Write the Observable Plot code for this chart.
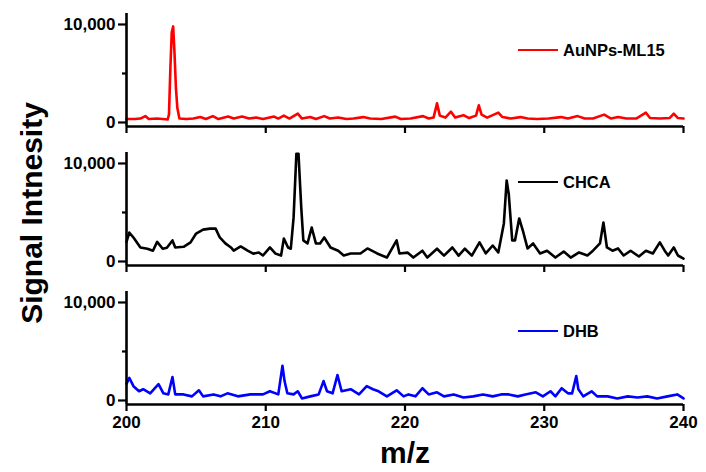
<!DOCTYPE html>
<html><head><meta charset="utf-8">
<script src="https://cdn.jsdelivr.net/npm/d3@7"></script>
<script src="https://cdn.jsdelivr.net/npm/@observablehq/plot@0.6"></script>
<style>
body{margin:0;background:#fff;}
#chart{position:relative;width:706px;height:472px;overflow:hidden;font-family:"Liberation Sans",Arial,sans-serif;font-weight:bold;color:#000;}
.panel{position:absolute;left:0;}
.legend{position:absolute;display:flex;align-items:center;height:20px;font-size:16.5px;font-weight:bold;white-space:nowrap;}
.legend .sw{width:40px;height:0;border-top:2.5px solid;margin-right:5px;}
.ylab{position:absolute;width:300px;height:36px;line-height:36px;text-align:center;font-size:30px;font-weight:bold;transform:rotate(-90deg);}
.xlab{position:absolute;width:200px;height:36px;line-height:36px;text-align:center;font-size:30px;font-weight:bold;}
</style>
</head><body><div id="chart"></div>
<script>
// ---- data ----
const seriesNames = ["AuNPs-ML15", "CHCA", "DHB"];
const seriesColors = ["#ff0000", "#000000", "#0000ff"];
const xTicks = [200, 210, 220, 230, 240];
const yTicks = [0, 10000];
const yMinorTicks = [5000];
const xDomain = [200, 240];
const yDomain = [-410, 11120];
const xTitle = "m/z";
const yTitle = "Signal Intnesity";

// [m/z, intensity]
const aunpsSpectrum = [
[200.0,350],[200.6,350],[201.0,400],[201.35,650],[201.6,350],[202.2,400],[202.6,350],[202.95,300],
[203.05,800],[203.15,5500],[203.25,9200],[203.35,9800],[203.45,7000],[203.55,3500],[203.65,1500],[203.8,400],
[204.3,350],[204.8,400],[205.3,550],[205.7,350],[206.2,650],[206.6,350],[207.3,600],[207.7,400],
[208.3,600],[208.8,400],[209.3,500],[209.8,350],[210.6,600],[210.9,400],[211.3,700],[211.7,400],
[212.3,900],[212.6,400],[213.2,550],[213.6,350],[214.2,650],[214.6,400],[215.2,500],[215.8,350],
[216.3,400],[217.0,550],[217.5,400],[218.3,350],[219.3,600],[219.7,350],[220.4,400],[221.3,650],
[221.7,400],[222.05,500],[222.3,1950],[222.5,700],[222.9,500],[223.3,1100],[223.6,500],[224.2,750],
[224.6,450],[225.1,700],[225.3,1750],[225.5,800],[225.9,500],[226.7,1000],[227.0,550],[227.6,400],
[228.3,550],[228.8,400],[229.5,350],[230.3,400],[231.2,550],[231.7,400],[232.4,650],[232.9,400],
[233.5,400],[234.3,800],[234.8,400],[235.3,550],[235.9,400],[236.6,400],[237.3,1000],[237.6,450],
[238.3,400],[239.0,450],[239.3,900],[239.6,450],[240.0,400]
];
const chcaSpectrum = [
[200.0,2000],[200.2,2950],[200.5,2450],[201.0,1430],[201.5,1300],[201.9,1100],[202.2,2000],[202.6,1300],
[202.9,1400],[203.3,2150],[203.5,1430],[204.1,1500],[204.6,1950],[205.0,2850],[205.5,3250],[206.0,3350],
[206.4,3350],[206.7,2450],[207.1,1850],[207.5,1430],[207.7,1100],[208.2,1530],[208.7,1100],[209.1,800],
[209.5,920],[209.8,610],[210.3,1430],[210.7,800],[211.1,600],[211.3,2350],[211.6,1430],[211.8,1300],
[212.0,4500],[212.2,11000],[212.35,11000],[212.55,5500],[212.7,2150],[213.0,1840],[213.3,3470],[213.6,1840],
[213.9,1840],[214.2,2450],[214.65,1430],[215.2,1100],[215.6,610],[216.1,820],[216.8,820],[217.3,1330],
[218.0,820],[218.7,400],[219.4,2150],[219.6,820],[220.2,900],[220.6,400],[221.25,1100],[221.6,400],
[222.3,1300],[222.8,600],[223.4,1430],[223.85,600],[224.3,1300],[224.8,600],[225.35,1950],[225.8,820],
[226.3,1630],[226.7,920],[227.1,3880],[227.3,8260],[227.45,6900],[227.7,2150],[227.9,2150],[228.2,4390],
[228.5,2960],[228.8,1330],[229.2,1840],[229.7,820],[230.2,1100],[230.8,400],[231.4,1020],[231.9,400],
[232.5,920],[233.1,610],[233.5,1100],[234.0,1840],[234.25,3980],[234.5,1430],[234.9,1100],[235.3,1330],
[235.7,610],[236.2,1100],[236.8,510],[237.3,1100],[237.8,820],[238.3,1950],[238.65,1100],[238.9,610],
[239.3,1430],[239.6,610],[240.0,300]
];
const dhbSpectrum = [
[200.0,1700],[200.2,2300],[200.5,1460],[200.9,940],[201.2,1150],[201.7,730],[202.3,1670],[202.65,730],
[203.0,620],[203.3,2400],[203.5,620],[204.1,620],[204.7,420],[205.2,1040],[205.5,420],[206.25,620],
[206.75,420],[207.25,730],[208.0,420],[208.9,620],[209.8,620],[210.3,940],[210.9,620],[211.2,3540],
[211.35,1980],[211.55,730],[212.0,620],[212.3,940],[212.6,210],[213.2,420],[213.8,620],[214.15,1980],
[214.4,940],[214.8,730],[215.15,2600],[215.45,940],[216.1,1150],[216.7,620],[217.25,1460],[217.7,1150],
[218.1,940],[218.7,420],[219.4,1040],[219.9,420],[220.25,620],[220.75,420],[221.25,1250],[221.7,620],
[222.3,830],[222.8,420],[223.5,620],[224.2,310],[224.9,420],[225.6,620],[226.3,420],[226.9,620],
[227.45,620],[228.1,420],[228.65,620],[229.4,830],[229.9,420],[230.45,940],[230.8,420],[231.25,1250],
[231.7,730],[232.0,730],[232.3,2500],[232.45,1150],[232.8,420],[233.4,940],[233.8,420],[234.55,420],
[235.25,210],[236.0,420],[236.7,310],[237.4,420],[238.1,210],[238.85,420],[239.55,620],[240.0,210]
];
const spectra = [aunpsSpectrum, chcaSpectrum, dhbSpectrum];

// ---- layout ----
const W = 706, frameH = 113, mL = 126, mR = 23;
const frameTops = [13, 152, 291];
const legendY = [50, 182, 331];

const chart = document.getElementById("chart");
const fmt = d3.format(",");
const textStyle = {fontSize: 17, fontWeight: "bold", fontFamily: "Liberation Sans, Arial, sans-serif"};

spectra.forEach((data, i) => {
  const isBottom = i === spectra.length - 1;
  const mt = 10, mb = isBottom ? 40 : 12;
  const p = Plot.plot({
    width: W, height: frameH + mt + mb,
    marginLeft: mL, marginRight: mR, marginTop: mt, marginBottom: mb,
    style: {overflow: "visible", background: "transparent", color: "#000"},
    x: {domain: xDomain, label: null},
    y: {domain: yDomain, label: null},
    marks: [
      Plot.line(data, {x: d => d[0], y: d => d[1], stroke: seriesColors[i], strokeWidth: 2.6, strokeLinejoin: "round"}),
      Plot.ruleX([xDomain[0]], {stroke: "#000", strokeWidth: 2.6}),
      Plot.ruleY([yDomain[0]], {stroke: "#000", strokeWidth: 2.6}),
      Plot.axisY({ticks: yTicks, tickFormat: fmt, tickSize: 8, tickPadding: 3, strokeWidth: 2.2, label: null, ...textStyle}),
      Plot.axisY({ticks: yMinorTicks, tickFormat: () => "", tickSize: 4, strokeWidth: 2.2, label: null}),
      Plot.axisX({ticks: xTicks, tickFormat: isBottom ? (d => String(d)) : (() => ""), tickSize: 7, tickPadding: 4, strokeWidth: 2.2, label: null, ...textStyle})
    ]
  });
  p.classList.add("panel");
  p.style.top = (frameTops[i] - mt) + "px";
  chart.appendChild(p);

  const lg = document.createElement("div");
  lg.className = "legend";
  lg.style.left = "518px";
  lg.style.top = (legendY[i] - 10) + "px";
  lg.innerHTML = `<span class="sw" style="border-color:${seriesColors[i]}"></span><span>${seriesNames[i]}</span>`;
  chart.appendChild(lg);
});

const yl = document.createElement("div");
yl.className = "ylab";
yl.textContent = yTitle;
yl.style.left = (32 - 150) + "px";
yl.style.top = (213 - 18) + "px";
chart.appendChild(yl);

const xl = document.createElement("div");
xl.className = "xlab";
xl.textContent = xTitle;
xl.style.left = (405 - 100) + "px";
xl.style.top = (453 - 18) + "px";
chart.appendChild(xl);
</script>
</body></html>
